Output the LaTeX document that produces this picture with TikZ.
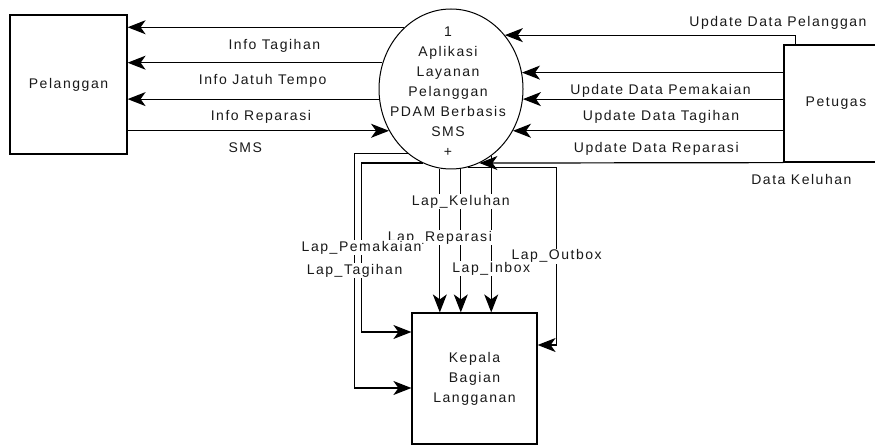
\documentclass[tikz,border=0pt]{standalone}
\usepackage{fontspec}
\setmainfont{Liberation Sans}[LetterSpace=11]
\usetikzlibrary{arrows.meta,shapes.geometric}
\tikzstyle{entity} = [draw, line width=1.2pt, minimum width=117pt, minimum height=139pt]
\tikzstyle{process} = [draw, ellipse, line width=1pt, minimum width=144pt, minimum height=160pt, inner sep=0pt]
\tikzstyle{flow} = [line width=1.2pt, -{Stealth[length=18pt,width=14pt,inset=5pt]}]
\tikzstyle{lbl} = [inner sep=1pt]

\begin{document}
\begin{tikzpicture}[x=1pt, y=-1pt, text=black!90, font=\fontsize{14}{20}\selectfont]
\useasboundingbox (0,0) rectangle (875,446);

% external entities and the process
\node [entity] (pelanggan) at (68.5,84.5) {Pelanggan};
\node [entity, minimum width=104pt, minimum height=117pt] (petugas) at (836,103.5) {Petugas};
\node [entity, align=center, minimum width=125pt, minimum height=131pt] (kepala) at (474.5,378.5) {Kepala\\Bagian\\Langganan};
\node [process] (proses) at (451,89) {};
\node [align=center] (proses-text) at (448,92) {1\\Aplikasi\\Layanan\\Pelanggan\\PDAM Berbasis\\SMS\\+};

% to and from Pelanggan
\foreach \a/\t in {127.4/Info Tagihan, 159.9/Info Jatuh Tempo, 188.8/Info Reparasi}
  \draw [flow] (proses.\a) -- (proses.\a -| pelanggan.east)
    node [lbl, below=10pt, pos=0.47] {\t};
\draw [flow] (proses.214.4 -| pelanggan.east) -- (proses.214.4)
  node [lbl, below=10pt, pos=0.45] {SMS};

% from Petugas
\draw [flow] ([xshift=12pt]petugas.north west) |- (proses.45.5)
  node [lbl, above=4pt, pos=0.53] {Update Data Pelanggan};
\foreach \a/\t in {13.6/Update Data Pemakaian, -8.8/Update Data Tagihan, -34.4/Update Data Reparasi}
  \draw [flow] (proses.\a -| petugas.west) -- (proses.\a)
    node [lbl, below=10pt, pos=0.47] {\t};
\draw [flow] (petugas.south west) -- (proses.-69.7)
  node [lbl, below=10pt, pos=0, xshift=18pt] {Data Keluhan};

% reports to Kepala Bagian Langganan
\foreach \a/\c/\p in {262.8/lap-reparasi/0.48, 277.9/lap-keluhan/0.23, 301.9/lap-inbox/0.72}
  \draw [flow] (proses.\a) -- (proses.\a |- kepala.north) coordinate [pos=\p] (\c);
\draw [flow] (proses.236) -- ++(-53,0) |- ([yshift=-9.5pt]kepala.west)
  coordinate [pos=0.25] (lap-tagihan);
\draw [flow] (proses.249.7) -- ++(-61,0) |- ([yshift=46.5pt]kepala.west)
  coordinate [pos=0.25] (lap-pemakaian);
\draw [flow] (proses.-78.4) -- ++(89,0) |- ([yshift=33.5pt]kepala.east)
  coordinate [pos=0.25] (lap-outbox);

\foreach \c/\t in {lap-reparasi/Lap\_Reparasi, lap-pemakaian/Lap\_Pemakaian,
    lap-keluhan/Lap\_Keluhan, lap-tagihan/Lap\_Tagihan,
    lap-outbox/Lap\_Outbox, lap-inbox/Lap\_Inbox}
  \node [lbl, fill=white] (\c-text) at (\c) {\t};

\end{tikzpicture}
\end{document}
